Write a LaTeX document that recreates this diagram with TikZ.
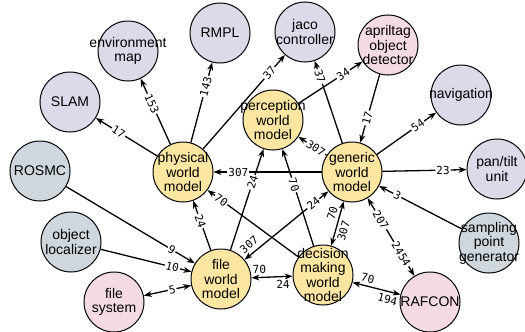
\documentclass[tikz,border=0pt]{standalone}
\usepackage{fontspec}
\setmainfont{Liberation Sans}
\setmonofont{DejaVu Sans Mono}
\usetikzlibrary{arrows.meta}
\definecolor{wmyellow}{HTML}{FCE6A2}
\definecolor{lavender}{HTML}{DDD9E8}
\definecolor{pinkish}{HTML}{F4DAE5}
\definecolor{slate}{HTML}{CDD7DD}

\begin{document}
\begin{tikzpicture}[x=1pt,y=-1pt,
  comp/.style={circle,draw,line width=1pt,minimum size=60pt,inner sep=0pt},
  wm/.style={comp,fill=wmyellow},
  svc/.style={comp,fill=lavender},
  src/.style={comp,fill=pinkish},
  ext/.style={comp,fill=slate},
  txt/.style={align=center,inner sep=0pt,font=\fontsize{14}{14.5}\selectfont},
  lbl/.style={sloped,fill=white,inner sep=1pt,font=\ttfamily\fontsize{11}{11}\selectfont},
  flow/.style={line width=1.3pt,-{Stealth[length=8pt,width=6pt]}},
  duplex/.style={line width=1.3pt,{Stealth[length=8pt,width=6pt]}-{Stealth[length=8pt,width=6pt]}}]
  \useasboundingbox (0,0) rectangle (525,332);

  \node[svc, label={[txt]center:environment\\map}] (envmap) at (128,51) {};
  \node[svc, label={[txt]center:RMPL}] (rmpl) at (220,33) {};
  \node[svc, label={[txt]center:SLAM}] (slam) at (70,102) {};
  \node[svc, label={[txt]center:jaco\\controller}] (jaco) at (305,32) {};
  \node[src, label={[txt]center:apriltag\\object\\detector}] (april) at (388,45) {};
  \node[svc, label={[txt]center:navigation}] (nav) at (461,95) {};
  \node[svc, label={[txt]center:pan/tilt\\unit}] (pantilt) at (497,169) {};
  \node[ext, label={[txt]center:sampling\\point\\generator}] (sampling) at (489,243) {};
  \node[src, label={[txt]center:RAFCON}] (rafcon) at (430,302) {};
  \node[ext, label={[txt]center:ROSMC}] (rosmc) at (40,171) {};
  \node[ext, label={[txt]center:object\\localizer}] (objloc) at (71,242) {};
  \node[src, label={[txt]center:file\\system}] (filesys) at (114,302) {};

  \node[wm, label={[txt]center:physical\\world\\model}] (physical) at (183,172) {};
  \node[wm, label={[txt]center:perception\\world\\model}] (perception) at (273,120) {};
  \node[wm, label={[txt]center:generic\\world\\model}] (generic) at (352,172) {};
  \node[wm, label={[txt]center:file\\world\\model}] (file) at (221,279) {};
  \node[wm, label={[txt]center:decision\\making\\world\\model}] (decision) at (323,275) {};

  \draw[flow] (physical) -- node[lbl,pos=0.63] {17} (slam);
  \draw[flow] (physical) -- node[lbl,pos=0.62] {153} (envmap);
  \draw[flow] (physical) -- node[lbl,pos=0.70] {143} (rmpl);
  \draw[flow] (physical) -- node[lbl,pos=0.81] {37} (jaco);
  \draw[flow] (generic) -- node[lbl,pos=0.81] {37} (jaco);
  \draw[flow] (perception) -- node[lbl,pos=0.70] {34} (april);
  \draw[flow] (april) -- node[lbl,pos=0.64] {17} (generic);
  \draw[flow] (generic) -- node[lbl,pos=0.69] {54} (nav);
  \draw[flow] (generic) -- node[lbl,pos=0.72] {23} (pantilt);
  \draw[flow] (sampling) -- node[lbl,pos=0.78] {3} (generic);
  \draw[duplex] (generic) -- node[lbl,pos=0.28] {207} node[lbl,pos=0.72] {2454} (rafcon);
  \draw[flow] (generic) -- node[lbl,pos=0.77] {307} (physical);
  \draw[flow] (generic) -- node[lbl,pos=0.38] {307} (perception);
  \draw[flow] (file) -- node[lbl,pos=0.67] {24} (perception);
  \draw[flow] (decision) -- node[lbl,pos=0.63] {70} (perception);
  \draw[flow] (file) -- node[lbl,pos=0.59] {24} (physical);
  \draw[flow] (decision) -- node[lbl,pos=0.85] {70} (physical);
  \draw[duplex] (file) -- node[lbl,pos=0.12,above=3pt] {307} node[lbl,pos=0.82] {24} (generic);
  \draw[duplex] (decision) -- node[lbl,pos=0.68,above=2pt] {70} node[lbl,pos=0.38,below=2pt] {307} (generic);
  \draw[duplex] (file) -- node[lbl,pos=0.2,above=2pt] {70} node[lbl,pos=0.76,below=2pt] {24} (decision);
  \draw[duplex] (decision) -- node[lbl,pos=0.28,above=2pt] {70} node[lbl,pos=0.77,below=2pt] {194} (rafcon);
  \draw[duplex] (filesys) -- node[lbl,pos=0.6] {5} (file);
  \draw[flow] (rosmc) -- node[lbl,pos=0.82] {9} (file);
  \draw[flow] (objloc) -- node[lbl,pos=0.79] {10} (file);

\end{tikzpicture}
\end{document}
